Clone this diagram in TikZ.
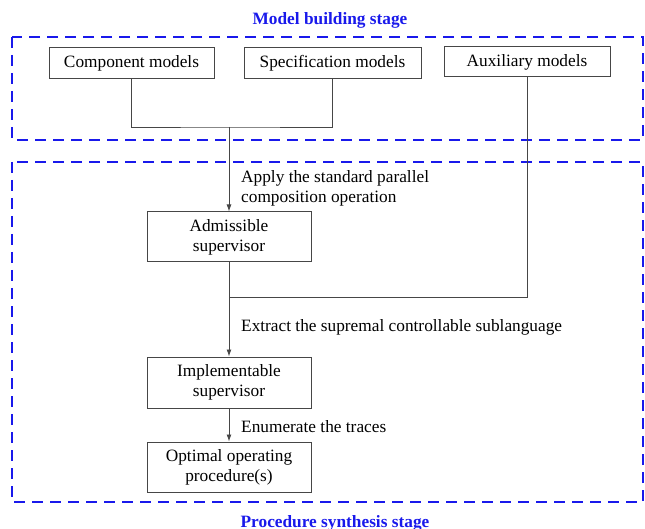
\documentclass[tikz,border=0pt]{standalone}
\usepackage{fontspec}
\setmainfont{Liberation Serif}
\usetikzlibrary{arrows.meta,calc}
\definecolor{stageblue}{RGB}{25,25,235}
\definecolor{linegray}{RGB}{70,70,70}
\tikzset{
  stagebox/.style={draw=stageblue,line width=2.4pt,dash pattern=on 11pt off 7pt},
  stagetitle/.style={text=stageblue,font=\fontsize{17.3}{20}\selectfont\bfseries,inner sep=0pt},
  procbox/.style={draw=linegray,line width=1pt,align=center,inner sep=0pt,font=\fontsize{17.3}{20}\selectfont},
  conn/.style={draw=linegray,line width=0.9pt},
  arr/.style={conn,-{Latex[length=7pt,width=5pt]}},
  steplabel/.style={align=left,anchor=west,inner sep=0pt,font=\fontsize{17.3}{20}\selectfont}
}
\begin{document}
\begin{tikzpicture}[x=1pt,y=-1pt]
\useasboundingbox (0,0) rectangle (645,529);
% stage frames
\draw[stagebox] (12,37) rectangle (643,140);
\draw[stagebox] (12,162) rectangle (643,502);
\node[stagetitle] (t1) at (330,20) {Model building stage};
\node[stagetitle] (t2) at (335,523) {Procedure synthesis stage};
% boxes
\node[procbox,minimum width=165pt,minimum height=31pt] (comp) at (131.5,63.5) {Component models};
\node[procbox,minimum width=177pt,minimum height=31pt] (spec) at (332.5,63.5) {Specification models};
\node[procbox,minimum width=166pt,minimum height=30pt] (aux) at (527,62) {Auxiliary models};
\node[procbox,minimum width=164pt,minimum height=50pt] (adm) at (229,237) {Admissible\\supervisor};
\node[procbox,minimum width=164pt,minimum height=51pt] (impl) at (229,382.5) {Implementable\\supervisor};
\node[procbox,minimum width=164pt,minimum height=50pt] (opt) at (229,467) {Optimal operating\\procedure(s)};
% junctions
\coordinate (j1) at (229,127);
\coordinate (j2) at (229,297);
% connectors
\draw[conn] (comp.south) |- (j1) -| (spec.south);
\draw[arr] (j1) -- (adm.north);
\draw[conn] (aux.south) |- (j2);
\draw[arr] (adm.south) -- (impl.north);
\draw[arr] (impl.south) -- (opt.north);
% labels
\node[steplabel] (l1) at (241,188) {Apply the standard parallel\\composition operation};
\node[steplabel] (l2) at (241,327) {Extract the supremal controllable sublanguage};
\node[steplabel] (l3) at (241,427) {Enumerate the traces};
\end{tikzpicture}
\end{document}
